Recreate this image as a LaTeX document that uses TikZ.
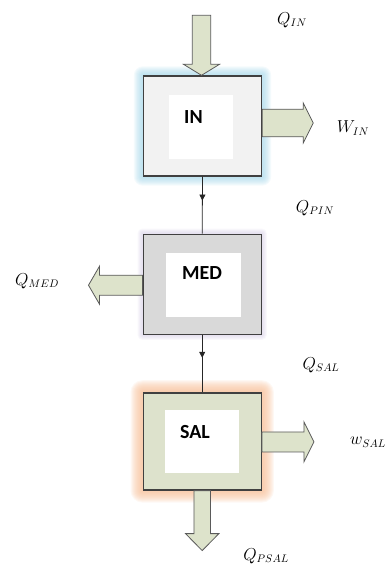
\documentclass[tikz,border=0pt]{standalone}
\usepackage{fontspec}
\newfontfamily\boxfont{Carlito}
\usetikzlibrary{backgrounds,calc,decorations.markings,arrows.meta}
\definecolor{arrfill}{HTML}{DDE3CB}
\definecolor{arrdraw}{HTML}{5A5A5A}
\definecolor{boxdraw}{HTML}{404040}
\definecolor{infill}{HTML}{F2F2F2}
\definecolor{medfill}{HTML}{D9D9D9}
\definecolor{salfill}{HTML}{DDE2CC}
\definecolor{glowblue}{HTML}{9FD4E8}
\definecolor{glowpurple}{HTML}{C8BEDD}
\definecolor{gloworange}{HTML}{F7BE96}
\tikzset{
  sysbox/.style={draw=boxdraw, line width=1.4pt, minimum width=118pt, minimum height=100pt, inner sep=0pt},
  innerbox/.style={fill=white, inner sep=0pt},
  boxlabel/.style={font=\boxfont\bfseries\fontsize{20}{22}\selectfont, inner sep=0pt},
  qlabel/.style={font=\fontsize{16}{18}\selectfont, inner sep=0pt},
  fatarrow/.style={fill=arrfill, draw=arrdraw, line width=0.8pt, line join=miter},
  flowline/.style={draw=black!85, line width=0.8pt, postaction=decorate,
    decoration={markings, mark=at position #1 with {\arrow{Triangle[length=6pt,width=6pt]}}}},
}
\newcommand\blockarrow[6]{%
  \begin{scope}[shift={(#1)}, rotate=#2]
    \draw[fatarrow] (0,-#4) -- ({#3-#6},-#4) -- ({#3-#6},-#5) -- (#3,0) -- ({#3-#6},#5) -- ({#3-#6},#4) -- (0,#4) -- cycle;
  \end{scope}}
\newcommand\glowrect[3]{%
  \foreach \r in {#3,...,1}{
    \fill[#2, opacity=0.11, rounded corners=\r pt] ([shift={(-\r,\r)}]#1.south west) rectangle ([shift={(\r,-\r)}]#1.north east);
  }}
\begin{document}
\begin{tikzpicture}[x=1pt,y=-1pt]
\useasboundingbox (0,0) rectangle (391,566);
% boxes
\node[sysbox, fill=infill] (IN) at (202.5,126) {};
\node[sysbox, fill=medfill] (MED) at (202.2,284.2) {};
\node[sysbox, fill=salfill, minimum height=97pt] (SAL) at (202.2,441.4) {};
\begin{scope}[on background layer]
  \glowrect{IN}{glowblue}{9}
  \glowrect{MED}{glowpurple}{5}
  \glowrect{SAL}{gloworange}{12}
\end{scope}
% inner white areas
\node[innerbox, minimum width=64pt, minimum height=64pt] (INw) at (201.3,127) {};
\node[innerbox, minimum width=75pt, minimum height=64pt] (MEDw) at (203.2,285.3) {};
\node[innerbox, minimum width=74pt, minimum height=63pt] (SALw) at (202.2,441) {};
% box labels
\node[boxlabel] (INt) at (193.5,117) {IN};
\node[boxlabel] (MEDt) at (202,273.5) {MED};
\node[boxlabel] (SALt) at (195,432) {SAL};
% connectors
\draw[flowline=0.42] (IN.south) -- (MED.north);
\draw[flowline=0.40] (MED.south) -- (SAL.north);
% block arrows
\coordinate (qinstart) at ($(IN.north)+(-1,-60)$);
\blockarrow{qinstart}{-90}{60}{9.2}{18}{11}
\coordinate (winstart) at ($(IN.east)+(0,-3)$);
\blockarrow{winstart}{0}{51}{13.8}{20}{10}
\coordinate (qmedstart) at ($(MED.west)+(0,1)$);
\blockarrow{qmedstart}{180}{54}{10}{19}{11}
\coordinate (wsalstart) at ($(SAL.east)+(0,0.5)$);
\blockarrow{wsalstart}{0}{52}{10}{20}{10}
\blockarrow{SAL.south}{-90}{60}{8.3}{16.7}{17}
% labels
\node[qlabel] (lQIN) at (292,20) {$Q_{IN}$};
\node[qlabel] (lWIN) at (353,128) {$W_{IN}$};
\node[qlabel] (lQPIN) at (315,208) {$Q_{PIN}$};
\node[qlabel] (lQMED) at (37,281) {$Q_{MED}$};
\node[qlabel] (lQSAL) at (321,365) {$Q_{SAL}$};
\node[qlabel] (lWSAL) at (368,442) {$w_{SAL}$};
\node[qlabel] (lQPSAL) at (266,556) {$Q_{PSAL}$};
\end{tikzpicture}
\end{document}
